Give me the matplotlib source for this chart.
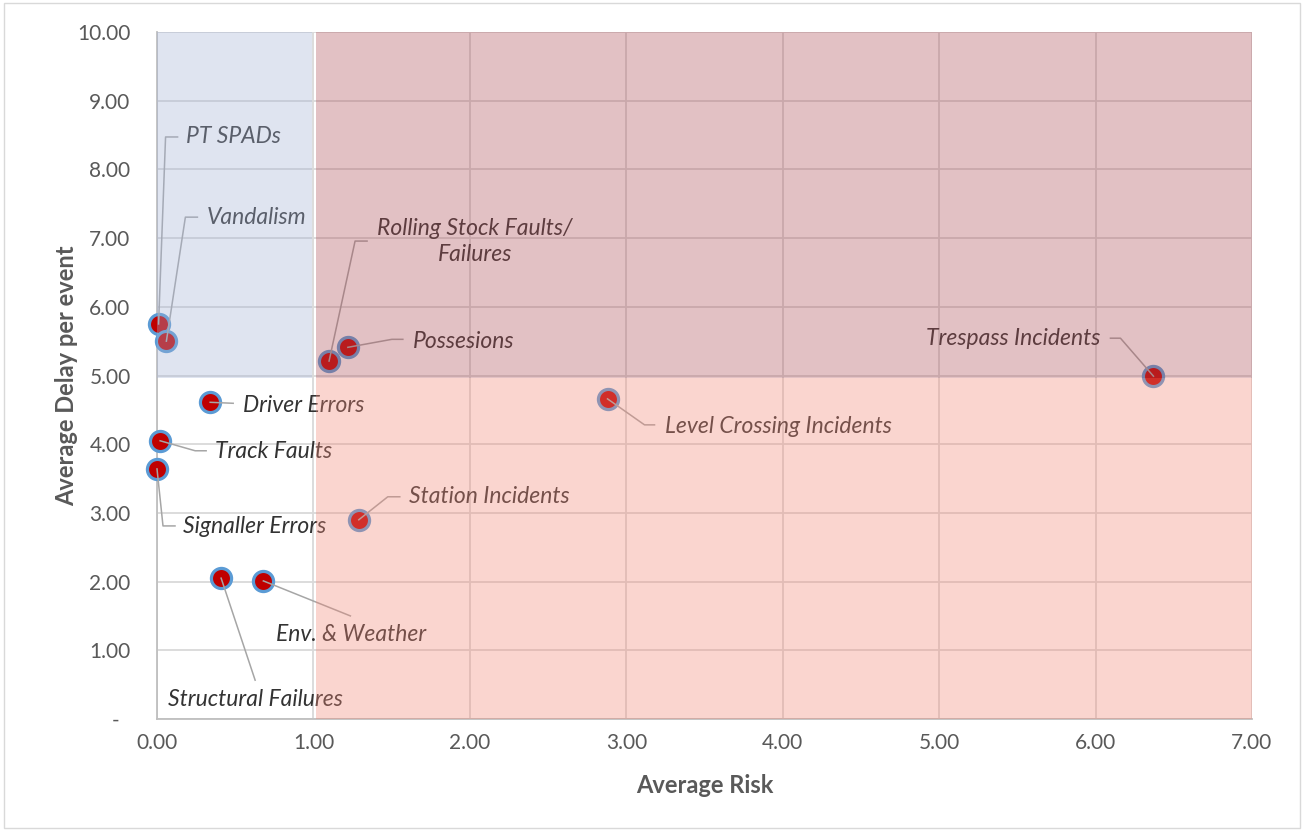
import matplotlib
matplotlib.use("Agg")
import matplotlib.pyplot as plt
import matplotlib.patches as mpatches
from matplotlib.ticker import FuncFormatter, MultipleLocator

plt.rcParams['font.family'] = ['Lato', 'DejaVu Sans']

# incident categories: average risk vs average delay per event
categories = [
    "PT SPADs", "Vandalism", "Rolling Stock Faults/\nFailures", "Possesions",
    "Trespass Incidents", "Level Crossing Incidents", "Driver Errors",
    "Track Faults", "Signaller Errors", "Station Incidents",
    "Structural Failures", "Env. & Weather",
]
avg_risk = [0.01, 0.06, 1.10, 1.22, 6.37, 2.88, 0.34, 0.02, 0.00, 1.29, 0.41, 0.68]
avg_delay = [5.75, 5.50, 5.21, 5.41, 4.99, 4.66, 4.61, 4.05, 3.64, 2.90, 2.05, 2.01]

risk_threshold = 1.0
delay_threshold = 4.96

# label layout, in pixels relative to the marker: elbow, line end, text anchor, alignment
leaders = [
    ((7, 187), (19, 187), (27, 187), "left"),
    ((19, 124), (31, 124), (40, 124), "left"),
    ((26, 120), (38, 120), (146, 120), "center"),
    ((44, 8), (55, 8), (65, 6), "left"),
    ((-33, 38), (-43, 38), (-53, 38), "right"),
    ((37, -26), (47, -26), (57, -28), "left"),
    ((23, -1), (23, -1), (33, -3), "left"),
    ((35, -10), (46, -10), (55, -11), "left"),
    ((6, -57), (18, -57), (26, -58), "left"),
    ((29, 23), (41, 23), (50, 23), "left"),
    ((34, -102), (34, -102), (34, -121), "center"),
    ((87, -35), (87, -35), (88, -54), "center"),
]

fig = plt.figure(figsize=(13.05, 8.31), dpi=100)
ax = fig.add_axes([157 / 1305, 1 - 719 / 831, 1095 / 1305, 687 / 831])

ax.set_xlim(0, 7)
ax.set_ylim(0, 10)
ax.xaxis.set_major_locator(MultipleLocator(1))
ax.yaxis.set_major_locator(MultipleLocator(1))
ax.xaxis.set_major_formatter(FuncFormatter(lambda v, p: "%.2f" % v))
ax.yaxis.set_major_formatter(FuncFormatter(lambda v, p: "-  " if v == 0 else "%.2f" % v))
ax.grid(True, color="#D9D9D9", linewidth=1.3, zorder=0)
ax.set_axisbelow(True)
for s in ["top", "right"]:
    ax.spines[s].set_visible(False)
for s in ["left", "bottom"]:
    ax.spines[s].set_color("#BFBFBF")
    ax.spines[s].set_linewidth(1.3)
ax.tick_params(length=0, labelsize=15, colors="#595959")
ax.tick_params(axis="y", pad=19)
ax.tick_params(axis="x", pad=10)

ax.set_xlabel("Average Risk", fontsize=17, fontweight="bold", color="#595959", labelpad=15)
ax.set_ylabel("Average Delay per event", fontsize=17, fontweight="bold", color="#595959", labelpad=-1)

ax.plot(avg_risk, avg_delay, "o", markersize=14.5, markerfacecolor="#C00000",
        markeredgecolor="#5B9BD5", markeredgewidth=2.3, zorder=4, clip_on=False)

for name, x, y, (elbow, end, txt, ha) in zip(categories, avg_risk, avg_delay, leaders):
    trans = ax.transData
    px, py = trans.transform((x, y))
    pts = [(px, py), (px + elbow[0], py + elbow[1]), (px + end[0], py + end[1])]
    inv = trans.inverted()
    dpts = [inv.transform(p) for p in pts]
    ax.plot([p[0] for p in dpts], [p[1] for p in dpts], color="#A6A6A6",
            linewidth=1.1, zorder=5, clip_on=False)
    ax.annotate(name, (x, y), xytext=txt, textcoords="offset pixels",
                ha=ha, va="center", fontsize=16.5, style="italic",
                color="#333333", zorder=6, linespacing=1.3,
                multialignment="center")

# shaded quadrants laid over the chart
ax.add_patch(mpatches.Rectangle((0, delay_threshold), risk_threshold - 0.01, 10 - delay_threshold,
                                facecolor="#A4B2D4", alpha=0.35, edgecolor="none", zorder=8))
ax.add_patch(mpatches.Rectangle((risk_threshold + 0.015, delay_threshold),
                                7 - risk_threshold - 0.015, 10 - delay_threshold,
                                facecolor="#AC4E56", alpha=0.35, edgecolor="none", zorder=8))
ax.add_patch(mpatches.Rectangle((risk_threshold + 0.015, 0), 7 - risk_threshold - 0.015,
                                delay_threshold,
                                facecolor="#F18776", alpha=0.35, edgecolor="none", zorder=8))

fig.patches.append(mpatches.Rectangle((4 / 1305, 3 / 831), 1296 / 1305, 825 / 831,
                                      transform=fig.transFigure, fill=False,
                                      edgecolor="#D9D9D9", linewidth=1))

plt.savefig("out.png", dpi=100)
